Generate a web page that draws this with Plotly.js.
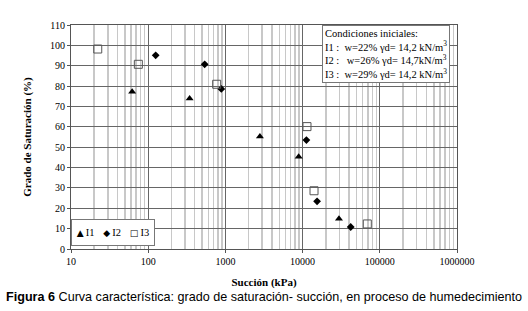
<!DOCTYPE html>
<html><head><meta charset="utf-8">
<script src="https://cdn.plot.ly/plotly-3.0.1.min.js"></script>
<style>body{margin:0;background:#fff}#c{width:528px;height:311px;position:relative}
#cap{position:absolute;left:0;top:290px;width:528px;text-align:center;font-family:'Liberation Sans',Arial,sans-serif;font-size:12.6px;color:#000;white-space:nowrap}</style>
</head><body><div id="c"><div id="g"></div><div id="cap"><b>Figura 6</b> Curva característica: grado de saturación- succión, en proceso de humedecimiento</div></div>
<script>
const i1Suction = [62, 344, 2800, 8900, 29600];
const i1Sat = [77.2, 73.9, 55.2, 45.3, 14.9];
const i2Suction = [125, 539, 885, 11200, 15400, 42000];
const i2Sat = [95.1, 90.7, 78.6, 53.5, 23.4, 10.8];
const i3Suction = [22.2, 74.5, 771, 11400, 14060, 68900];
const i3Sat = [98.2, 90.7, 80.9, 60.1, 28.6, 12.3];
const seriesNames = ['I1', 'I2', 'I3'];
const legendSymbols = ['▲', '◆', '□'];
const xTickVals = [10, 100, 1000, 10000, 100000, 1000000];
const xTickText = ['10', '100', '1000', '10000', '100000', '1000000'];

const minorVals = [];
for (let d = 10; d < 1000000; d *= 10) for (let k = 2; k <= 9; k++) minorVals.push(d * k);

const serif = 'Liberation Serif, Times New Roman, serif';
const traces = [
  {x: i1Suction, y: i1Sat, name: seriesNames[0], mode: 'markers', type: 'scatter',
   marker: {symbol: 'triangle-up', size: 7, color: '#000'}},
  {x: i2Suction, y: i2Sat, name: seriesNames[1], mode: 'markers', type: 'scatter',
   marker: {symbol: 'diamond', size: 6, color: '#000'}},
  {x: i3Suction, y: i3Sat, name: seriesNames[2], mode: 'markers', type: 'scatter',
   marker: {symbol: 'square-open', size: 8, color: '#555', line: {width: 1}}}
];
const legendText = seriesNames.map((n, i) =>
  '<span style="font-family:DejaVu Sans;font-size:9px">' + legendSymbols[i] + '</span>\u2009' + n).join('\u2002\u2004');
const layout = {
  width: 528, height: 311,
  margin: {l: 71, r: 71, t: 25, b: 62},
  paper_bgcolor: '#fff', plot_bgcolor: '#fff',
  font: {family: serif, size: 10, color: '#000'},
  showlegend: false,
  xaxis: {type: 'log', range: [1, 6], tickmode: 'array', tickvals: xTickVals, ticktext: xTickText,
    showgrid: true, gridcolor: '#666', gridwidth: 1,
    minor: {tickmode: 'array', tickvals: minorVals, showgrid: true, gridcolor: '#c8c8c8', gridwidth: 1.5, ticks: ''},
    showline: true, linecolor: '#555', mirror: true, ticks: 'outside', ticklen: 3, tickcolor: '#555',
    tickfont: {family: serif, size: 10}, zeroline: false,
    title: {text: '<b>Succión (kPa)</b>', font: {family: serif, size: 11}, standoff: 12}},
  yaxis: {range: [0, 110], tickmode: 'linear', tick0: 0, dtick: 10,
    showgrid: true, gridcolor: '#666', gridwidth: 1,
    showline: true, linecolor: '#555', mirror: true, ticks: 'outside', ticklen: 3, tickcolor: '#555',
    tickfont: {family: serif, size: 10}, zeroline: false,
    title: {text: '<b>Grado de Saturación (%)</b>', font: {family: serif, size: 11}, standoff: 16}},
  annotations: [{
    xref: 'paper', yref: 'paper', x: 0.65, y: 1, xanchor: 'left', yanchor: 'top', align: 'left',
    showarrow: false, bgcolor: '#fff', bordercolor: '#777', borderwidth: 1, borderpad: 2,
    font: {family: serif, size: 10.5, color: '#000'},
    text: 'Condiciones iniciales:<br>I1 :\u2002w=22% γd= 14,2 kN/m<sup>3</sup><br>I2 :\u2002\u2009w=26% γd= 14,7kN/m<sup>3</sup><br>I3 :\u2002w=29% γd= 14,2 kN/m<sup>3</sup>'
  }, {
    xref: 'paper', yref: 'paper', x: 0, y: 0.012, xanchor: 'left', yanchor: 'bottom', align: 'center',
    showarrow: false, bgcolor: '#fff', bordercolor: '#777', borderwidth: 1, borderpad: 0,
    width: 82, height: 25, font: {family: serif, size: 10.5, color: '#000'},
    text: legendText
  }]
};
Plotly.newPlot('g', traces, layout, {displayModeBar: false, staticPlot: true});
</script></body></html>
